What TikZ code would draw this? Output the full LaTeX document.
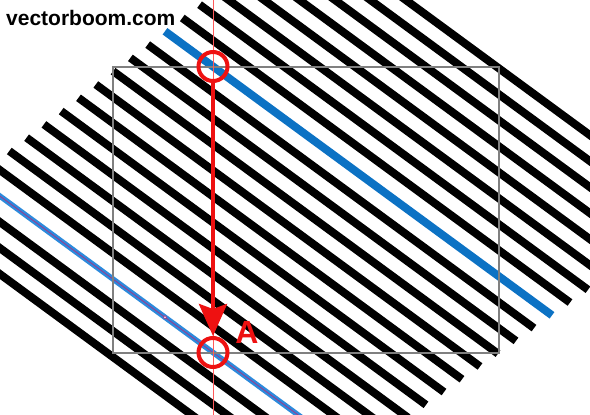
\documentclass[tikz,border=0pt]{standalone}
\usepackage{fontspec}
\setmainfont{Liberation Sans}
\usetikzlibrary{arrows.meta}
\definecolor{hatchblue}{HTML}{0C72C4}
\definecolor{guideblue}{HTML}{2C8ADC}
\definecolor{guidepurple}{HTML}{9B3A8C}
\definecolor{markred}{HTML}{EE1111}
\definecolor{thinred}{HTML}{FF5A5A}
\definecolor{framegray}{HTML}{808080}
\tikzset{
  hatchline/.style={line width=8pt, line cap=butt, black},
  blueline/.style={line width=8pt, line cap=butt, hatchblue},
  guideline/.style={line width=5.5pt, line cap=butt, guideblue},
  guidecenter/.style={line width=0.8pt, guidepurple},
  tileframe/.style={line width=1.5pt, framegray},
  ring/.style={circle, draw=markred, line width=4pt, minimum size=29pt, inner sep=0pt},
  redarrow/.style={line width=4pt, markred, -{Stealth[length=32pt,width=28pt,inset=5pt]}},
  plumb/.style={line width=0.8pt, thinred},
}
\begin{document}
\begin{tikzpicture}[x=1pt,y=-1pt]
\useasboundingbox (0,0) rectangle (590,415);
\fill[white] (0,0) rectangle (590,415);
\begin{scope}
\clip (0,0) rectangle (590,415);
\foreach \k in {-8,...,14}{
  \pgfmathsetmacro\xa{165-17.3*\k}
  \pgfmathsetmacro\ya{66.5+26*\k+0.734*(\xa-213)}
  \pgfmathsetmacro\xb{552-18*\k}
  \pgfmathsetmacro\yb{66.5+26*\k+0.734*(\xb-213)}
  \ifnum\k=0
    \draw[blueline] (\xa,\ya) -- (\xb,\yb);
  \else
    \ifnum\k=11
      \draw[guideline] (\xa,\ya) -- (\xb,\yb);
      \draw[guidecenter] (\xa,\ya) -- (\xb,\yb);
    \else
      \draw[hatchline] (\xa,\ya) -- (\xb,\yb);
    \fi
  \fi
}
\draw[guidepurple, line width=0.7pt, fill=white] (165,317.3) circle (1.6pt);
\end{scope}
\draw[tileframe] (113,67) rectangle (499,353);
\coordinate (ptop) at (213,0);
\coordinate (pbot) at (213,415);
\draw[plumb] (ptop) -- (pbot);
\node[ring] (c1) at (213,66.5) {};
\node[ring] (c2) at (213,352.5) {};
\draw[redarrow] (c1.south) -- (c2.north);
\node[anchor=base, text=markred, font=\fontsize{32}{36}\selectfont\bfseries, inner sep=0pt] (lblA) at (247,343) {A};
\node[anchor=base west, font=\fontsize{21}{25}\selectfont\bfseries, inner sep=0pt] (site) at (6,25) {vectorboom.com};
\end{tikzpicture}
\end{document}
